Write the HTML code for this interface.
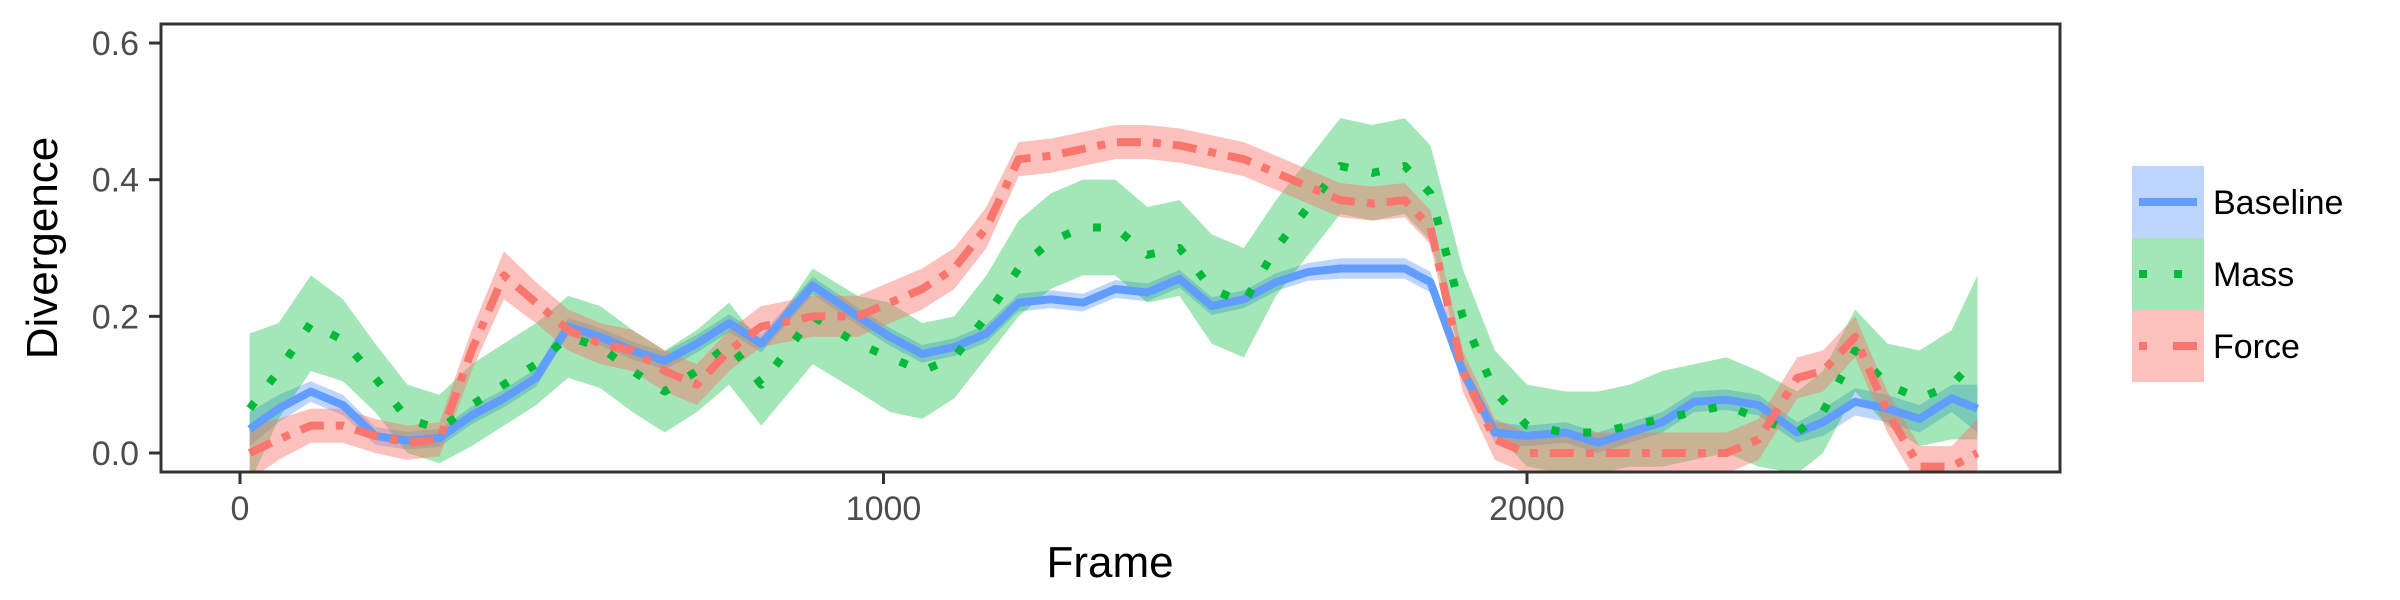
<!DOCTYPE html>
<html><head><meta charset="utf-8"><style>
html,body{margin:0;padding:0;background:#fff}
svg{display:block;font-family:"Liberation Sans",sans-serif}
</style></head><body>
<svg id="chart" width="2400" height="600" viewBox="0 0 2400 600">
<defs><clipPath id="panelClip"><rect x="161" y="24" width="1899" height="448"/></clipPath></defs>
<rect x="0" y="0" width="2400" height="600" fill="#fff"/>
<g id="bands" clip-path="url(#panelClip)"></g>
<g id="lines" clip-path="url(#panelClip)"></g>
<rect x="161" y="24" width="1899" height="448" fill="none" stroke="#333" stroke-width="3"/>
<g id="yaxis"></g>
<g id="xaxis"></g>
<text x="1110" y="577" font-size="44" text-anchor="middle" fill="#000">Frame</text>
<text transform="translate(57,248) rotate(-90)" font-size="44" text-anchor="middle" fill="#000">Divergence</text>
<g id="legend"></g>
</svg>
<script>
const frames=[15,60,110,160,210,260,310,360,410,460,510,560,610,660,710,760,810,890,960,1010,1060,1110,1160,1210,1260,1310,1360,1410,1460,1510,1560,1610,1660,1710,1760,1810,1850,1900,1950,2000,2060,2110,2160,2210,2260,2310,2360,2420,2460,2510,2560,2610,2660,2700];
const baseline=[.035,.065,.09,.07,.025,.018,.022,.055,.08,.11,.185,.17,.15,.135,.16,.19,.16,.245,.2,.17,.145,.155,.175,.22,.225,.22,.24,.235,.255,.215,.225,.25,.265,.27,.27,.27,.25,.12,.03,.025,.03,.015,.03,.045,.075,.078,.07,.03,.045,.075,.065,.05,.08,.065];
const baselineSE=[.025,.02,.015,.015,.013,.013,.013,.013,.013,.013,.013,.013,.013,.013,.013,.013,.013,.013,.013,.013,.013,.013,.013,.013,.013,.013,.013,.013,.013,.013,.013,.013,.013,.015,.015,.015,.015,.015,.015,.015,.015,.015,.015,.015,.015,.015,.015,.015,.02,.02,.02,.02,.02,.035];
const mass=[.065,.12,.19,.165,.11,.05,.035,.07,.1,.13,.17,.155,.12,.09,.12,.16,.1,.2,.16,.14,.12,.14,.2,.27,.31,.33,.33,.29,.3,.24,.22,.3,.36,.42,.41,.42,.38,.2,.09,.04,.03,.03,.04,.05,.06,.07,.05,.03,.06,.15,.1,.08,.1,.14];
const massSE=[.11,.07,.07,.06,.05,.05,.05,.06,.06,.06,.06,.06,.06,.06,.06,.06,.06,.07,.07,.08,.07,.06,.06,.07,.07,.07,.07,.07,.07,.08,.08,.07,.07,.07,.07,.07,.07,.07,.06,.06,.06,.06,.06,.07,.07,.07,.07,.06,.06,.06,.06,.07,.08,.12];
const force=[.0,.02,.04,.04,.025,.015,.02,.15,.26,.22,.18,.16,.15,.12,.1,.15,.185,.2,.2,.22,.24,.27,.33,.43,.435,.445,.455,.455,.45,.44,.43,.41,.39,.37,.365,.37,.33,.12,.02,.0,.0,.0,.0,.0,.0,.0,.02,.11,.12,.17,.06,-.02,-.02,.0];
const forceSE=[.04,.03,.025,.025,.025,.025,.025,.03,.035,.03,.03,.03,.03,.03,.03,.03,.03,.03,.03,.03,.03,.03,.03,.025,.025,.025,.025,.025,.025,.025,.025,.025,.025,.025,.025,.025,.025,.03,.03,.03,.03,.03,.03,.03,.03,.03,.03,.03,.03,.03,.03,.03,.03,.05];
const yTicks=[0,0.2,0.4,0.6];
const yTickLabels=["0.0","0.2","0.4","0.6"];
const xTicks=[0,1000,2000];
const xTickLabels=["0","1000","2000"];
const seriesNames=["Baseline","Mass","Force"];

const NS="http://www.w3.org/2000/svg";
function xs(f){return 240+f*0.6435;}
function ys(v){return 453-v*683.3;}
function mk(tag,attrs,parent){const e=document.createElementNS(NS,tag);for(const k in attrs)e.setAttribute(k,attrs[k]);parent.appendChild(e);return e;}
const series=[
 {name:"baseline",vals:baseline,se:baselineSE,col:"#619CFF",fill:"rgba(97,156,255,0.42)",dash:""},
 {name:"mass",vals:mass,se:massSE,col:"#00BA38",fill:"rgba(0,186,56,0.36)",dash:"8 24"},
 {name:"force",vals:force,se:forceSE,col:"#F8766D",fill:"rgba(248,118,109,0.45)",dash:"24 12 8 12"}
];
const bands=document.getElementById('bands'),lines=document.getElementById('lines');
series.forEach(s=>{
 let up=frames.map((f,i)=>xs(f)+","+ys(s.vals[i]+s.se[i]));
 let lo=frames.map((f,i)=>xs(f)+","+ys(s.vals[i]-s.se[i])).reverse();
 const b=mk('polygon',{points:up.concat(lo).join(" "),fill:s.fill},bands);
 
 
});
series.forEach(s=>{
 const p=mk('polyline',{points:frames.map((f,i)=>xs(f)+","+ys(s.vals[i])).join(" "),fill:"none",stroke:s.col,"stroke-width":8,"stroke-dasharray":s.dash,"stroke-linejoin":"round"},lines);
 
 
});
const ya=document.getElementById('yaxis');
yTicks.forEach((v,i)=>{
 const t=mk('line',{x1:149,x2:161,y1:ys(v),y2:ys(v),stroke:"#333","stroke-width":3},ya);
 
 
 const l=mk('text',{x:139,y:ys(v)+12,"font-size":34,"text-anchor":"end",fill:"#4d4d4d"},ya);
 l.textContent=yTickLabels[i];
 
 
});
const xa=document.getElementById('xaxis');
xTicks.forEach((v,i)=>{
 const t=mk('line',{x1:xs(v),x2:xs(v),y1:472,y2:484,stroke:"#333","stroke-width":3},xa);
 
 
 const l=mk('text',{x:xs(v),y:520,"font-size":34,"text-anchor":"middle",fill:"#4d4d4d"},xa);
 l.textContent=xTickLabels[i];
 
 
});
const lg=document.getElementById('legend');
series.forEach((s,i)=>{
 const y0=166+i*72;
 const r=mk('rect',{x:2132,y:y0,width:72,height:72,fill:s.fill},lg);
 
 
 const ln=mk('line',{x1:2139,x2:2197,y1:y0+36,y2:y0+36,stroke:s.col,"stroke-width":8,"stroke-dasharray":i==1?"8 27":(i==2?"8 26 22 0":"")},lg);
 
 
 const tx=mk('text',{x:2213,y:y0+48,"font-size":34,fill:"#000"},lg);
 tx.textContent=seriesNames[i];
 
 
});
</script>
</body></html>
